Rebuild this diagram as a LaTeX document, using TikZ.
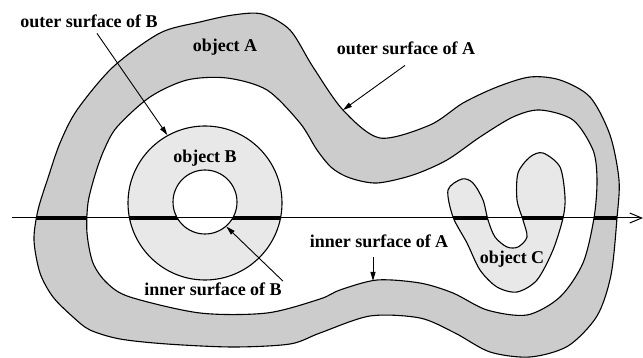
\documentclass[tikz,border=0pt]{standalone}
\usepackage{fontspec}
\setmainfont{Liberation Serif}
\usetikzlibrary{arrows.meta}
\begin{document}
\begin{tikzpicture}[x=1pt,y=-1pt,
  outline/.style={draw=black, line width=1.1pt},
  lbl/.style={font=\fontsize{18}{20}\selectfont\bfseries, inner sep=1pt, anchor=base},
  ptr/.style={line width=0.9pt, -{Triangle[length=9pt,width=5pt]}},
  bandfill/.style={fill=black!20},
  objfill/.style={fill=black!9},
]
\useasboundingbox (0,0) rectangle (643,358);

% object A (band)
\path[save path=\pathA]
  plot[smooth cycle] coordinates {(34,240) (38,210) (48,178) (60,143) (77,110) (113,67) (160,33) (200,22) (233,15) (262,14) (290,30) (313,67) (343,110) (380,138) (430,125) (463,103) (497,87) (530,77) (560,80) (590,97) (610,135) (619,180) (617,218) (611,275) (597,316) (568,346) (530,357) (490,352) (455,333) (420,318) (370,316) (320,333) (290,344) (233,347) (167,344) (120,339) (90,330) (73,317) (53,297) (40,273)}
  plot[smooth cycle] coordinates {(87,233) (88,203) (95,175) (104,150) (117,127) (150,97) (187,80) (227,78) (267,90) (300,123) (317,150) (332,168) (350,178) (377,183) (413,175) (447,160) (480,137) (513,117) (540,110) (573,120) (593,150) (597,180) (594,218) (583,263) (560,297) (527,315) (487,310) (453,293) (420,283) (377,280) (340,290) (320,299) (267,313) (200,313) (130,297) (107,283) (93,263)};
\path[use path=\pathA, outline, bandfill, even odd rule];

% object B
\node[circle, outline, objfill, minimum size=154pt, inner sep=0pt] (B) at (205,203) {};
\node[circle, outline, fill=white, minimum size=64pt, inner sep=0pt] (Bh) at (205,202) {};

% object C
\path[save path=\pathC]
  plot[smooth cycle] coordinates {(462,179) (473,183) (483,200) (488,220) (495,237) (507,247) (518,247) (527,237) (523,220) (517,200) (518,173) (530,157) (543,153) (560,167) (565,197) (563,218) (553,250) (537,280) (517,292) (497,287) (480,270) (467,243) (453,217) (448,190)};
\path[use path=\pathC, outline, objfill];

% axis
\coordinate (axL) at (12,218);
\coordinate (axR) at (643,218);
\draw[line width=1pt, -{Straight Barb[length=12pt,width=10pt]}] (axL) -- (axR);

% thick segments inside the objects
\begin{scope}
  \clip (0,216.6) rectangle (643,219.4);
  \path[use path=\pathA, fill=black, even odd rule];
  \fill[black, even odd rule] (205,203) circle[radius=77] (205,202) circle[radius=32];
  \path[use path=\pathC, fill=black];
\end{scope}

% labels
\node[lbl] (OB) at (89,28) {outer surface of B};
\node[lbl] (objA) at (225,52) {object A};
\node[lbl] (objB) at (205,163) {object B};
\node[lbl] (OA) at (406,55) {outer surface of A};
\node[lbl] (IB) at (213,295) {inner surface of B};
\node[lbl] (IA) at (379,248) {inner surface of A};
\node[lbl] (objC) at (512,264) {object C};

% pointers
\coordinate (oAtip) at (343,110);
\coordinate (iAtip) at (373,281);
\draw[ptr] ([xshift=8pt,yshift=-4pt]OB.south) -- (B.119);
\draw[ptr] ([xshift=-1pt,yshift=-9pt]OA.south) -- (oAtip);
\draw[ptr] (IB.north east) -- (Bh.-49);
\draw[ptr] ([xshift=-6pt,yshift=-8pt]IA.south) -- (iAtip);
\end{tikzpicture}
\end{document}
